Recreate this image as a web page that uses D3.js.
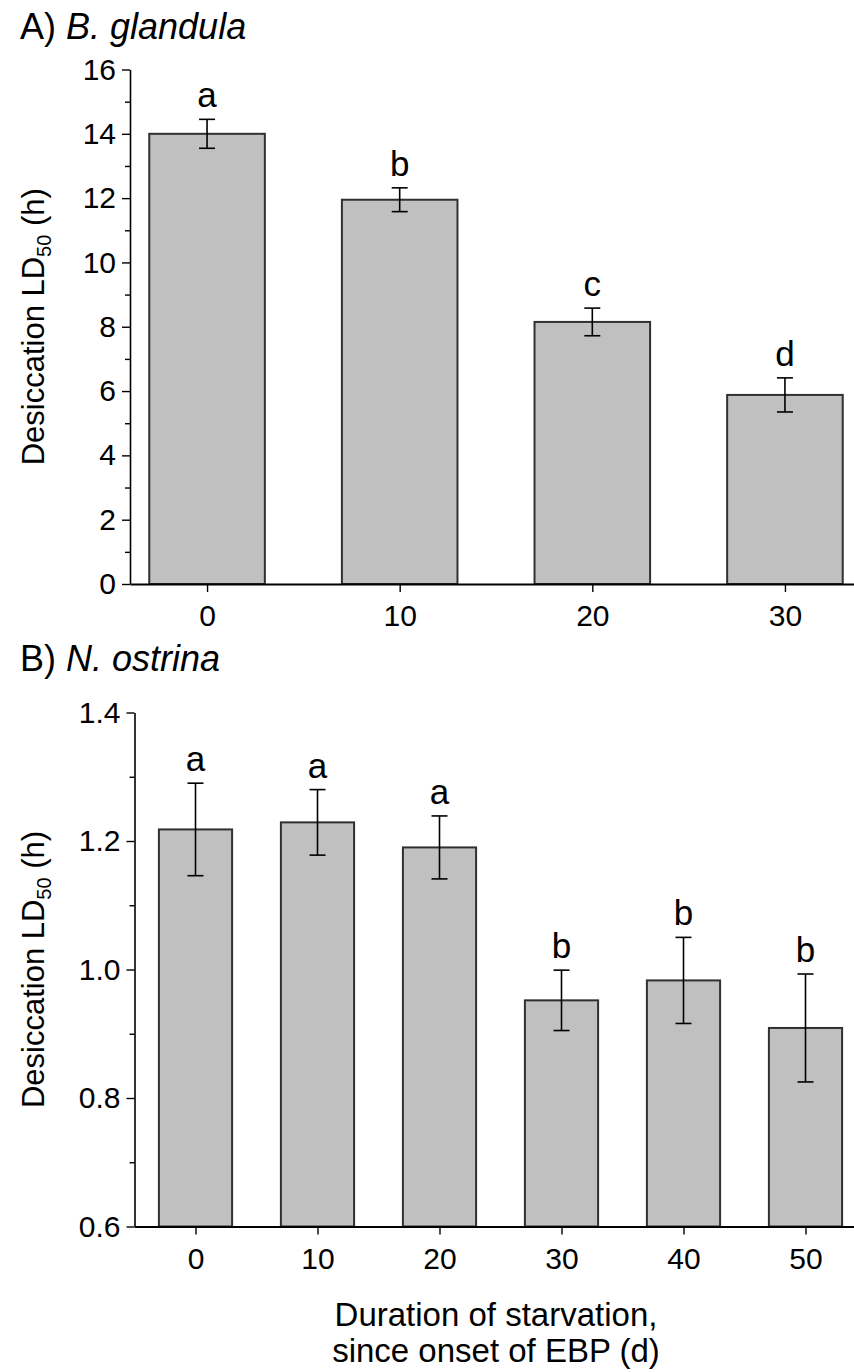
<!DOCTYPE html>
<html><head><meta charset="utf-8">
<script src="https://cdn.jsdelivr.net/npm/d3@7"></script>
<style>
body{margin:0;background:#fff}
text{font-family:"Liberation Sans",Arial,Helvetica,sans-serif;fill:#000}
</style>
</head><body>
<svg id="chart" width="854" height="1372" xmlns="http://www.w3.org/2000/svg"></svg>
<script>
// ---------- Data ----------
const daysA = [0, 10, 20, 30];
const meansA = [14.0, 11.95, 8.15, 5.88];
const seA = [0.45, 0.37, 0.43, 0.53];
const lettersA = ["a", "b", "c", "d"];
const yTicksA = [0, 2, 4, 6, 8, 10, 12, 14, 16];
const yMinorA = [1, 3, 5, 7, 9, 11, 13, 15];
const xTicksA = [0, 10, 20, 30];

const daysB = [0, 10, 20, 30, 40, 50];
const meansB = [1.218, 1.229, 1.190, 0.952, 0.983, 0.909];
const seB = [0.072, 0.051, 0.049, 0.047, 0.067, 0.084];
const lettersB = ["a", "a", "a", "b", "b", "b"];
const yTicksB = [0.6, 0.8, 1.0, 1.2, 1.4];
const yMinorB = [0.7, 0.9, 1.1, 1.3];
const xTicksB = [0, 10, 20, 30, 40, 50];

const svg = d3.select("#chart");

function panel(o) {
  const x = d3.scaleLinear().domain(o.xDomain).range(o.xRange);
  const y = d3.scaleLinear().domain(o.yDomain).range(o.yRange);
  const g = svg.append("g");
  const base = o.yDomain[0];
  const rows = o.days.map((d, i) => ({d, m: o.means[i], se: o.se[i], l: o.letters[i]}));

  // bars
  g.selectAll("rect.bar").data(rows).enter().append("rect")
    .attr("x", r => x(r.d - o.halfW))
    .attr("width", r => x(r.d + o.halfW) - x(r.d - o.halfW))
    .attr("y", r => y(r.m))
    .attr("height", r => y(base) - y(r.m))
    .attr("fill", "#c0c0c0").attr("stroke", "#303030").attr("stroke-width", 2);

  // error bars
  const eb = g.selectAll("g.eb").data(rows).enter().append("g");
  eb.append("line").attr("x1", r => x(r.d)).attr("x2", r => x(r.d))
    .attr("y1", r => y(r.m + r.se)).attr("y2", r => y(r.m - r.se));
  eb.append("line").attr("x1", r => x(r.d) - 8).attr("x2", r => x(r.d) + 8)
    .attr("y1", r => y(r.m + r.se)).attr("y2", r => y(r.m + r.se));
  eb.append("line").attr("x1", r => x(r.d) - 8).attr("x2", r => x(r.d) + 8)
    .attr("y1", r => y(r.m - r.se)).attr("y2", r => y(r.m - r.se));
  eb.selectAll("line").attr("stroke", "#000").attr("stroke-width", 1.6);

  // letters
  g.selectAll("text.let").data(rows).enter().append("text")
    .attr("x", r => x(r.d)).attr("y", r => y(r.m + r.se) - 12)
    .attr("text-anchor", "middle").attr("font-size", 35).text(r => r.l);

  // y axis minor
  g.append("g").attr("transform", `translate(${o.xRange[0]},0)`)
    .call(d3.axisLeft(y).tickValues(o.yMinor).tickSize(5).tickFormat(""))
    .call(a => a.select(".domain").remove())
    .call(a => a.selectAll("line").attr("stroke-width", 1.4));
  // y axis major
  g.append("g").attr("transform", `translate(${o.xRange[0]},0)`)
    .call(d3.axisLeft(y).tickValues(o.yTicks).tickSize(8).tickSizeOuter(0).tickPadding(6).tickFormat(o.yFmt))
    .call(a => a.select(".domain").attr("stroke-width", 1.6))
    .call(a => a.selectAll("line").attr("stroke-width", 1.4))
    .call(a => a.selectAll("text").attr("font-size", 30).attr("font-family", null));
  // x axis
  g.append("g").attr("transform", `translate(0,${o.yRange[0]})`)
    .call(d3.axisBottom(x).tickValues(o.xTicks).tickSize(8).tickSizeOuter(0).tickPadding(13).tickFormat(d3.format("d")))
    .call(a => a.select(".domain").attr("stroke-width", 2))
    .call(a => a.selectAll("line").attr("stroke-width", 1.4))
    .call(a => a.selectAll("text").attr("font-size", 30).attr("font-family", null));

  // y axis title
  const yc = (o.yRange[0] + o.yRange[1]) / 2;
  const t = g.append("text").attr("transform", `translate(44,${yc}) rotate(-90)`)
    .attr("text-anchor", "middle").attr("font-size", 31);
  t.append("tspan").text("Desiccation LD");
  t.append("tspan").attr("font-size", 20).attr("dy", 7).text("50");
  t.append("tspan").attr("dy", -7).text(" (h)");

  // panel title
  const pt = g.append("text").attr("x", 20).attr("y", o.titleY).attr("font-size", 36);
  pt.append("tspan").text(o.titlePre);
  pt.append("tspan").attr("font-style", "italic").text(o.titleSp);
}

panel({
  days: daysA, means: meansA, se: seA, letters: lettersA,
  xDomain: [-4, 34], xRange: [130, 862], halfW: 3,
  yDomain: [0, 16], yRange: [584, 69.5],
  yTicks: yTicksA, yMinor: yMinorA, xTicks: xTicksA, yFmt: d3.format("d"),
  titlePre: "A) ", titleSp: "B. glandula", titleY: 39
});
panel({
  days: daysB, means: meansB, se: seB, letters: lettersB,
  xDomain: [-5, 55], xRange: [134.5, 866.5], halfW: 3,
  yDomain: [0.6, 1.4], yRange: [1226.5, 712.5],
  yTicks: yTicksB, yMinor: yMinorB, xTicks: xTicksB, yFmt: d3.format(".1f"),
  titlePre: "B) ", titleSp: "N. ostrina", titleY: 671
});

// x axis title
const xt = svg.append("text").attr("text-anchor", "middle").attr("font-size", 33);
xt.append("tspan").attr("x", 496).attr("y", 1326).text("Duration of starvation,");
xt.append("tspan").attr("x", 496).attr("y", 1362).text("since onset of EBP (d)");
</script>
</body></html>
